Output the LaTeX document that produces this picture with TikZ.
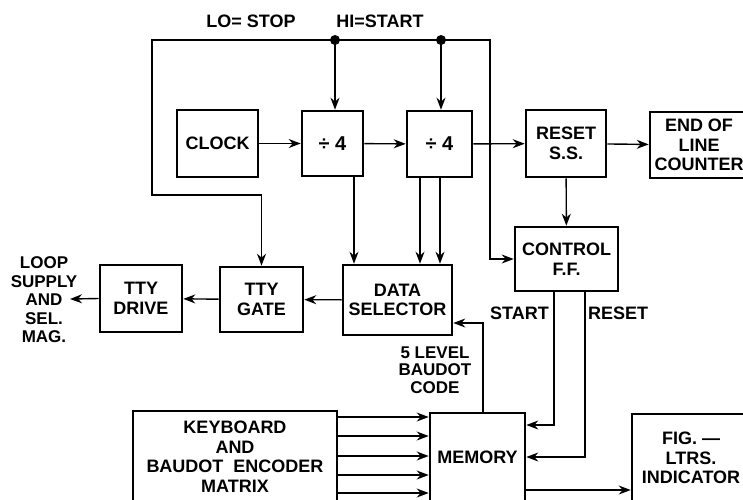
\documentclass[tikz,border=0pt]{standalone}
\usepackage{fontspec}
\setmainfont{Liberation Sans}
\usetikzlibrary{arrows.meta,calc,positioning}

\newcommand{\blkfont}{\fontsize{18}{19.5}\selectfont\bfseries}

\begin{document}
\begin{tikzpicture}[
    x=1pt, y=-1pt,
    >={Stealth[length=12pt,width=9pt]},
    blk/.style={draw, line width=2.6pt, inner sep=0pt, align=center, font=\blkfont},
    wire/.style={line width=1.4pt},
    lbl/.style={inner sep=0pt, align=center, font=\blkfont}
    ]
    
    % Frame
    \useasboundingbox (0,0) rectangle (743,499);
    
    % Blocks
    \node[blk, minimum width=81pt, minimum height=67pt] (clock) at (217.5,143.5) {CLOCK};
    \node[blk, minimum width=61pt, minimum height=65pt] (divA) at (332.5,143.5) {\fontsize{20}{20}\selectfont ÷ 4};
    \node[blk, minimum width=65pt, minimum height=66pt] (divB) at (439.5,144) {\fontsize{20}{20}\selectfont ÷ 4};
    \node[blk, minimum width=80pt, minimum height=67pt] (resetss) at (566,143.5) {RESET\\S.S.};
    \node[blk, minimum width=98pt, minimum height=66pt] (endline) at (699,145) {END OF\\LINE\\COUNTER};
    \node[blk, minimum width=103pt, minimum height=64pt] (control) at (566.5,259) {CONTROL\\F.F.};
    \node[blk, minimum width=109pt, minimum height=70pt] (datasel) at (397.5,300) {DATA\\SELECTOR};
    \node[blk, minimum width=83pt, minimum height=65pt] (ttygate) at (261.5,299.5) {TTY\\GATE};
    \node[blk, minimum width=82pt, minimum height=67pt] (ttydrive) at (141,298.5) {TTY\\DRIVE};
    \node[blk, minimum width=204pt, minimum height=91pt] (keyboard) at (235,456.5) {KEYBOARD\\AND\\BAUDOT\ \ ENCODER\\MATRIX};
    \node[blk, minimum width=95pt, minimum height=89pt] (memory) at (477.5,457.5) {MEMORY};
    \node[blk, minimum width=118pt, minimum height=88pt] (figltrs) at (691,458) {FIG.\ —\\LTRS.\\INDICATOR};
    
    % Labels
    \node[lbl] (lostop) at (251,21) {LO= STOP};
    \node[lbl] (histart) at (380,21) {HI=START};
    \node[lbl, anchor=east] (startlbl) at (549,313) {START};
    \node[lbl, anchor=west] (resetlbl) at (588,313) {RESET};
    \node[lbl, font=\fontsize{17}{17.5}\selectfont\bfseries] (baudot) at (435,370) {5 LEVEL\\BAUDOT\\CODE};
    \node[lbl, font=\fontsize{17}{18.5}\selectfont\bfseries] (loop) at (44,300) {LOOP\\SUPPLY\\AND\\SEL.\\MAG.};
    
    % Bus and guide coordinates
    \coordinate (busL) at (152,40);
    \coordinate (busR) at (490,40);
    \coordinate (dotA) at (335,40);
    \coordinate (dotB) at (441,40);
    \coordinate (gateTurn) at (152,195);
    \coordinate (selA) at (354,0);
    \coordinate (selB) at (420,0);
    \coordinate (selC) at (440,0);
    \coordinate (codeX) at (483,0);
    \coordinate (startX) at (554,0);
    \coordinate (resetX) at (585,0);
    \coordinate (loopIn) at (70,299);
    
    % Start/stop bus
    \draw[wire, <->] (ttygate.north) |- (gateTurn) -- (busL) -- (busR) |- (control.west);
    \fill (dotA) circle (5pt);
    \fill (dotB) circle (5pt);
    \draw[wire, ->] (dotA) -- (dotA |- divA.north);
    \draw[wire, ->] (dotB) -- (dotB |- divB.north);
    
    % Counter chain
    \draw[wire, ->] (clock) -- (divA);
    \draw[wire, ->] (divA) -- (divB);
    \draw[wire, ->] (divB) -- (resetss);
    \draw[wire, ->] (resetss) -- (endline);
    \draw[wire, ->] (resetss) -- (control);
    
    % Selector inputs
    \draw[wire, ->] (selA |- divA.south) -- (selA |- datasel.north);
    \draw[wire, ->] (selB |- divB.south) -- (selB |- datasel.north);
    \draw[wire, ->] (selC |- divB.south) -- (selC |- datasel.north);
    
    % Output chain
    \draw[wire, ->] (datasel) -- (ttygate);
    \draw[wire, ->] (ttygate) -- (ttydrive);
    \draw[wire, ->] (ttydrive.west) -- (loopIn);
    
    % Memory
    \draw[wire, ->] (codeX |- memory.north) |- (datasel.east |- 0,323);
    \draw[wire, ->] (startX |- control.south) |- (memory.east |- 0,425);
    \draw[wire, ->] (resetX |- control.south) |- (memory.east |- 0,457);
    \foreach \yy in {417,436,456,475,493}
        \draw[wire, ->] (keyboard.east |- 0,\yy) -- (memory.west |- 0,\yy);
    \draw[wire, ->] (memory.east |- 0,490) -- (figltrs.west |- 0,490);
\end{tikzpicture}
\end{document}
